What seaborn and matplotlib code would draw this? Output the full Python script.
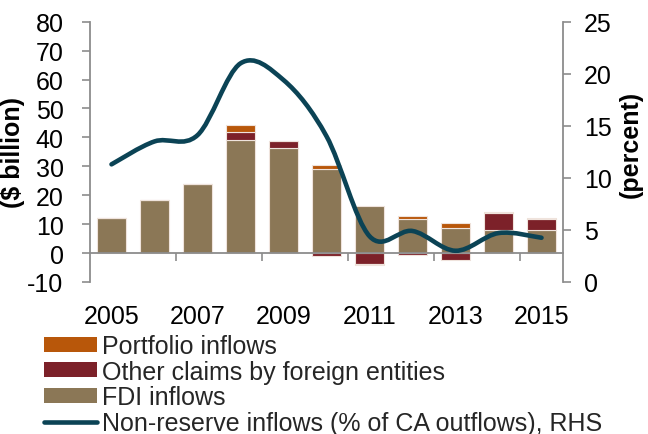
import numpy as np
import matplotlib
matplotlib.use("Agg")
import matplotlib.pyplot as plt
from matplotlib.path import Path
from matplotlib.patches import PathPatch, Patch
from matplotlib.lines import Line2D
import seaborn as sns

years = ["2005", "2006", "2007", "2008", "2009", "2010", "2011", "2012", "2013", "2014", "2015"]
fdi_inflows = [12.0, 18.2, 24.0, 39.2, 36.2, 29.1, 16.2, 11.7, 8.7, 7.9, 7.9]
other_claims = [0.0, 0.0, 0.0, 2.8, 2.5, -1.0, -3.8, -0.8, -2.4, 5.9, 3.8]
portfolio_inflows = [0.0, 0.0, 0.0, 2.3, 0.0, 1.2, -0.4, 1.1, 1.6, 0.3, 0.4]
nonreserve_pct = [11.3, 13.5, 14.1, 21.0, 19.4, 14.0, 4.4, 4.9, 3.0, 4.7, 4.25]
xtick_labels = ["2005", "2007", "2009", "2011", "2013", "2015"]
legend_labels = ["Portfolio inflows", "Other claims by foreign entities", "FDI inflows",
                 "Non-reserve inflows (% of CA outflows), RHS"]

C_FDI = "#8B7756"
C_OTH = "#7C2129"
C_POR = "#B8570A"
C_LINE = "#0B4355"
GREY = "#8C8C8C"
EDGE = "#EFE3DC"

sns.set_theme(style="white")
plt.rcParams["font.family"] = ["Liberation Sans", "DejaVu Sans"]
plt.rcParams["axes.unicode_minus"] = False

fig = plt.figure(figsize=(6.48, 4.35), dpi=100)
ax = fig.add_axes([90 / 648, 1 - 283 / 435, 473 / 648, 260.3 / 435])

W = 0.67
sns.barplot(x=years, y=fdi_inflows, color=C_FDI, saturation=1, width=W, ax=ax,
            edgecolor=EDGE, linewidth=0.8, zorder=1)

pos = np.arange(len(years))
fdi = np.array(fdi_inflows)
oth = np.array(other_claims)
por = np.array(portfolio_inflows)
oth_bottom = np.where(oth >= 0, fdi, 0.0)
ax.bar(pos, oth, width=W, bottom=oth_bottom, color=C_OTH, edgecolor=EDGE, linewidth=0.8, zorder=1)
por_bottom = np.where(por >= 0, fdi + np.maximum(oth, 0), np.minimum(oth, 0))
ax.bar(pos, por, width=W, bottom=por_bottom, color=C_POR, edgecolor=EDGE, linewidth=0.8, zorder=1)

ax.set_xlim(-0.5, len(years) - 0.5)
ax.set_ylim(-10, 80)
ax.set_yticks(np.arange(-10, 81, 10))
ax.set_xticks(np.arange(1.5, len(years) - 1, 2))
ax.set_xticklabels([])
ax.set_xticks(np.arange(0, len(years), 2), minor=True)
ax.set_xticklabels(xtick_labels, minor=True)
ax.set_xlabel("")

for s in ["top", "right"]:
    ax.spines[s].set_visible(False)
ax.spines["bottom"].set_position(("data", 0))
for s in ["left", "bottom"]:
    ax.spines[s].set_color(GREY)
    ax.spines[s].set_linewidth(1.3)
ax.tick_params(axis="y", direction="out", length=6, width=1.2, color=GREY, pad=13,
               labelsize=18, labelcolor="black", left=True)
ax.tick_params(axis="x", which="major", direction="out", length=6, width=1.2, color=GREY,
               bottom=True)
ax.tick_params(axis="x", which="minor", length=0, pad=37, labelsize=18, labelcolor="black",
               bottom=True)
ax.set_ylabel("($ billion)", fontsize=18, fontweight="bold", color="black")
ax.yaxis.set_label_coords(-0.137, 0.5)

ax2 = ax.twinx()
ax2.set_ylim(0, 25)
ax2.set_yticks(np.arange(0, 26, 5))
for s in ["top", "left", "bottom"]:
    ax2.spines[s].set_visible(False)
ax2.spines["right"].set_color(GREY)
ax2.spines["right"].set_linewidth(1.3)
ax2.tick_params(axis="y", direction="out", length=6, width=1.2, color=GREY, pad=9,
                labelsize=18, labelcolor="black", right=True)
ax2.set_ylabel("(percent)", fontsize=18, fontweight="bold", color="black", rotation=90)
ax2.yaxis.set_label_coords(1.117, 0.534)
ax2.grid(False)
ax.grid(False)

# smoothed line drawn as a Bezier path through the data points
pts = np.column_stack([pos, np.array(nonreserve_pct)])
ext = np.vstack([pts[0], pts, pts[-1]])
verts = [tuple(pts[0])]
codes = [Path.MOVETO]
for i in range(len(pts) - 1):
    p0, p1, p2, p3 = ext[i], ext[i + 1], ext[i + 2], ext[i + 3]
    c1 = p1 + (p2 - p0) / 6.0
    c2 = p2 - (p3 - p1) / 6.0
    verts += [tuple(c1), tuple(c2), tuple(p2)]
    codes += [Path.CURVE4] * 3
ax2.add_patch(PathPatch(Path(verts, codes), facecolor="none", edgecolor=C_LINE,
                        linewidth=3.3, capstyle="round", joinstyle="round",
                        transform=ax2.transData, zorder=3))

handles = [Patch(facecolor=C_POR, edgecolor="none"),
           Patch(facecolor=C_OTH, edgecolor="none"),
           Patch(facecolor=C_FDI, edgecolor="none"),
           Line2D([], [], color=C_LINE, linewidth=3.3, solid_capstyle="round")]
fig.legend(handles, legend_labels, loc="upper left", bbox_to_anchor=(44 / 648, 1 - 335 / 435),
           frameon=False, fontsize=18, handlelength=2.1, handleheight=0.55,
           handletextpad=0.22, labelspacing=0.07, borderpad=0, borderaxespad=0)

fig.savefig("out.png", dpi=100)
